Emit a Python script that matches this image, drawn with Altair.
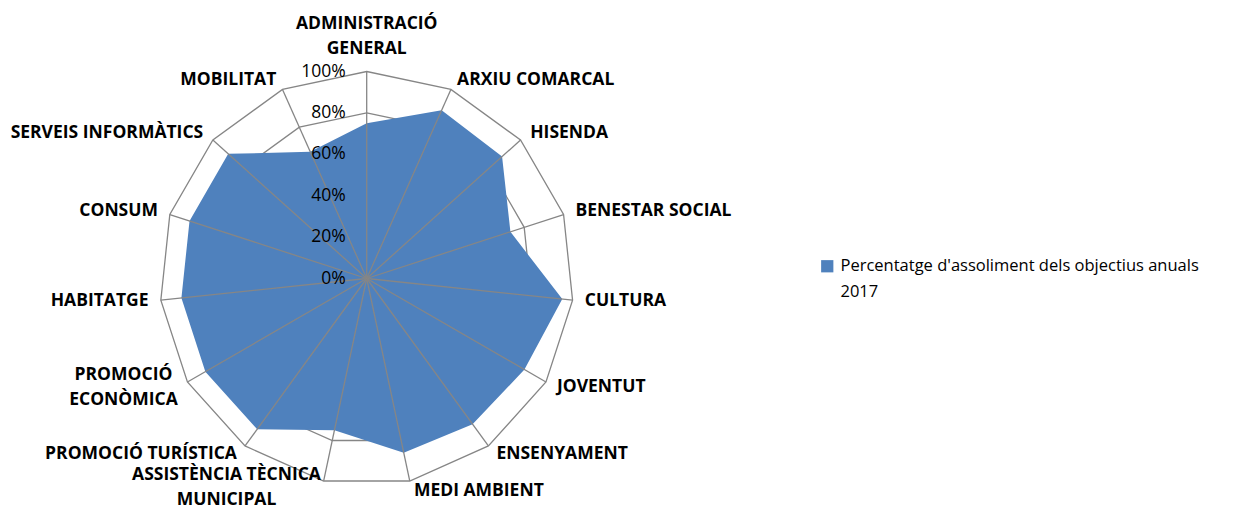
import altair as alt
import pandas as pd

categories = [
    "ADMINISTRACIÓ\nGENERAL", "ARXIU COMARCAL", "HISENDA", "BENESTAR SOCIAL",
    "CULTURA", "JOVENTUT", "ENSENYAMENT", "MEDI AMBIENT",
    "ASSISTÈNCIA TÈCNICA\nMUNICIPAL", "PROMOCIÓ TURÍSTICA", "PROMOCIÓ\nECONÒMICA",
    "HABITATGE", "CONSUM", "SERVEIS INFORMÀTICS", "MOBILITAT",
]
values = [0.75, 0.89, 0.88, 0.73, 0.95, 0.88, 0.87, 0.86,
          0.75, 0.90, 0.90, 0.90, 0.90, 0.90, 0.67]
tick_values = [0.0, 0.2, 0.4, 0.6, 0.8, 1.0]
tick_labels = ["0%", "20%", "40%", "60%", "80%", "100%"]
series_name = "Percentatge d'assoliment dels objectius anuals 2017"

N = len(categories)
ANG = f"datum.i * 2 * PI / {N}"

# layout (pixels)
W, H = 1231, 502
R = 207.0
CX, CY = 358.7, 270.5
xs = alt.Scale(domain=[-CX / R, (W - CX) / R], nice=False, zero=False)
ys = alt.Scale(domain=[-(H - CY) / R, CY / R], nice=False, zero=False)

GRID = "#868686"
FONT = "Open Sans"

poly_df = pd.DataFrame({"i": range(N), "cat": categories, "v": values,
                        "series": [series_name] * N})
ring_df = pd.DataFrame([{"i": i, "level": t} for t in tick_values[1:] for i in range(N)])
spoke_df = pd.DataFrame({"i": range(N), "cat": categories})
tick_df = pd.DataFrame({"v": tick_values, "lab": tick_labels})


def X(f):
    return alt.X(f"{f}:Q", scale=xs, axis=None)


def Y(f):
    return alt.Y(f"{f}:Q", scale=ys, axis=None)


rings = alt.Chart(ring_df).transform_calculate(
    x=f"datum.level * sin({ANG})", y=f"datum.level * cos({ANG})"
).mark_line(interpolate="linear-closed", stroke=GRID, strokeWidth=1.3).encode(
    x=X("x"), y=Y("y"), detail="level:N", order=alt.Order("i:Q")
)

polygon = alt.Chart(poly_df).transform_calculate(
    x=f"datum.v * sin({ANG})", y=f"datum.v * cos({ANG})"
).mark_line(interpolate="linear-closed", filled=True, strokeWidth=0).encode(
    x=X("x"), y=Y("y"), order=alt.Order("i:Q"),
    color=alt.Color("series:N", scale=alt.Scale(range=["#4F81BD"]),
                    legend=alt.Legend(
                        title=None, orient="none", legendX=811, legendY=250,
                        symbolType="square", symbolSize=150, symbolStrokeWidth=0,
                        labelFont=FONT, labelFontSize=16.5, labelColor="#000000",
                        labelLimit=600, labelOffset=5, labelBaseline="middle",
                        labelExpr="[substring(datum.label, 0, lastindexof(datum.label, ' ')), substring(datum.label, lastindexof(datum.label, ' ') + 1)]",
                    )),
)

spokes = alt.Chart(spoke_df).transform_calculate(
    x0="0", y0="0", x1=f"sin({ANG})", y1=f"cos({ANG})"
).mark_rule(stroke=GRID, strokeWidth=1.3).encode(
    x=X("x0"), y=Y("y0"), x2="x1:Q", y2="y1:Q"
)

tick_text = alt.Chart(tick_df).transform_calculate(x0="0").mark_text(
    align="right", baseline="middle", dx=-21, font=FONT, fontSize=17.5, color="#000000"
).encode(x=X("x0"), y=Y("v"), text="lab:N")

lab_base = alt.Chart(spoke_df).transform_calculate(
    lx=f"1.05 * sin({ANG})", ly=f"1.05 * cos({ANG})", s=f"sin({ANG})",
    multi="indexof(datum.cat, '\\n') >= 0",
)
txt = dict(font=FONT, fontSize=17.5, fontWeight="bold", color="#000000",
           baseline="middle", lineBreak="\n", lineHeight=25)
enc = dict(x=X("lx"), y=Y("ly"), text="cat:N")

lab_top = lab_base.transform_filter("datum.i == 0").mark_text(
    align="center", dy=-37, **txt).encode(**enc)
lab_right = lab_base.transform_filter("datum.s > 0.01").mark_text(
    align="left", dx=2, **txt).encode(**enc)
lab_left = lab_base.transform_filter("datum.s < -0.01 && !datum.multi").mark_text(
    align="right", dx=-2, **txt).encode(**enc)
lab_econ = lab_base.transform_filter("datum.i == 10").mark_text(
    align="center", dx=-55, dy=-12, **txt).encode(**enc)
lab_assist = lab_base.transform_filter("datum.i == 8").mark_text(
    align="center", dx=-95, dy=-16, **txt).encode(**enc)

chart = alt.layer(
    rings, polygon, spokes, tick_text,
    lab_top, lab_right, lab_left, lab_econ, lab_assist,
).properties(
    width=W, height=H, padding=0,
    autosize=alt.AutoSizeParams(type="none"),
).configure(
    view=alt.ViewConfig(strokeWidth=0),
    style={"guide-label": {"lineHeight": 26}},
)

chart.save("out.html", embed_options={"renderer": "svg", "actions": False})
